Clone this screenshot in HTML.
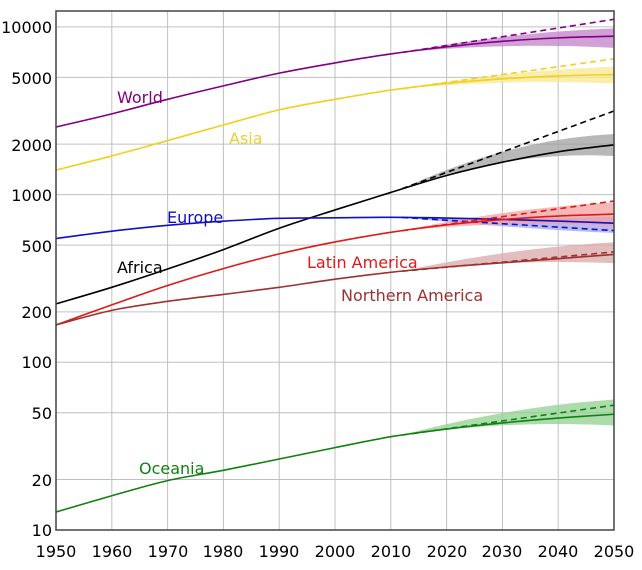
<!DOCTYPE html>
<html><head><meta charset="utf-8"><style>
html,body{margin:0;padding:0;background:#fff;}
svg{display:block;font-family:"DejaVu Sans","Liberation Sans",sans-serif;}
</style></head><body>
<svg id="s" width="642" height="570" viewBox="0 0 642 570" xmlns="http://www.w3.org/2000/svg">
<g id="grid" stroke="#c0c0c0" stroke-width="1"></g>
<g id="bands"></g>
<g id="lines" fill="none" stroke-width="1.6"></g>
<rect x="56" y="11" width="558" height="519" fill="none" stroke="#444" stroke-width="1.5"/>
<g font-size="16" fill="#000" text-anchor="end">
<text x="52" y="33">10000</text><text x="52" y="84">5000</text><text x="52" y="151">2000</text>
<text x="52" y="201">1000</text><text x="52" y="252">500</text><text x="52" y="318">200</text>
<text x="52" y="368">100</text><text x="52" y="419">50</text><text x="52" y="486">20</text><text x="52" y="536">10</text>
</g>
<g font-size="16" fill="#000" text-anchor="middle">
<text x="56" y="557">1950</text><text x="112" y="557">1960</text><text x="168" y="557">1970</text>
<text x="223" y="557">1980</text><text x="279" y="557">1990</text><text x="335" y="557">2000</text>
<text x="391" y="557">2010</text><text x="447" y="557">2020</text><text x="502" y="557">2030</text>
<text x="558" y="557">2040</text><text x="614" y="557">2050</text>
</g>
<g font-size="16">
<text x="117" y="103" fill="#800080">World</text>
<text x="229" y="144" fill="#e8d030">Asia</text>
<text x="167" y="223" fill="#1010c0">Europe</text>
<text x="117" y="273" fill="#000">Africa</text>
<text x="307" y="268" fill="#e01818">Latin America</text>
<text x="341" y="301" fill="#a03030">Northern America</text>
<text x="139" y="474" fill="#108010">Oceania</text>
</g>
</svg>
<script>
var X=function(yr){return 56+(yr-1950)*5.58;};
var Y=function(v){return 530-167.7*Math.log10(v/10);};
var ns="http://www.w3.org/2000/svg";
var g=document.getElementById('grid');
function ln(p,a){var e=document.createElementNS(ns,'line');for(var k in a)e.setAttribute(k,a[k]);p.appendChild(e);}
for(var yr=1960;yr<2050;yr+=10)ln(g,{x1:X(yr),x2:X(yr),y1:11,y2:530});
[20,50,100,200,500,1000,2000,5000,10000].forEach(function(v){ln(g,{x1:56,x2:614,y1:Y(v),y2:Y(v)});});
var yrs=[1950,1960,1970,1980,1990,2000,2010,2020,2030,2040,2050];
function smooth(pts){
 var d='M'+pts[0][0]+','+pts[0][1];
 for(var i=0;i<pts.length-1;i++){
  var p0=pts[i-1]||pts[i],p1=pts[i],p2=pts[i+1],p3=pts[i+2]||p2;
  var c1=[p1[0]+(p2[0]-p0[0])/6,p1[1]+(p2[1]-p0[1])/6];
  var c2=[p2[0]-(p3[0]-p1[0])/6,p2[1]-(p3[1]-p1[1])/6];
  d+='C'+c1[0]+','+c1[1]+' '+c2[0]+','+c2[1]+' '+p2[0]+','+p2[1];
 }
 return d;
}
var S=[
{c:'#800080',f:'#c080c8',d:[2530,3030,3700,4450,5300,6100,6900,7600,8200,8600,8800],hi:11100,lo:7500,up:9800},
{c:'#f0d020',f:'#f8e890',d:[1400,1700,2100,2600,3200,3700,4200,4600,4900,5100,5200],hi:6450,lo:4600,up:5800},
{c:'#000',f:'#a0a0a0',d:[223,280,360,470,630,810,1030,1300,1560,1800,1980],hi:3150,lo:1700,up:2300},
{c:'#1010c0',f:'#a0a0f0',d:[547,605,656,694,722,727,732,725,712,695,675],hi:610,lo:590,up:740},
{c:'#e01818',f:'#f4a0a0',d:[167,220,287,362,443,522,596,660,710,745,765],hi:916,lo:650,up:900},
{c:'#a03030',f:'#d8a8a8',d:[167,204,231,254,280,313,344,370,392,415,440],hi:455,lo:390,up:520},
{c:'#108010',f:'#90d090',d:[12.8,16,19.7,22.7,26.5,31,36,40,43.5,46.5,49],hi:55.5,lo:42,up:60}];
var B=document.getElementById('bands'),L=document.getElementById('lines');
function pth(p,a){var e=document.createElementNS(ns,'path');for(var k in a)e.setAttribute(k,a[k]);p.appendChild(e);}
S.forEach(function(s){
 var v12=s.d[6]+(s.d[7]-s.d[6])*0.2;
 var up=[],lo=[];
 for(var i=0;i<=10;i++){var t=i/10,yr=2012+38*t,
  m=Math.log10(v12)+(Math.log10(s.d[10])-Math.log10(v12))*(1-(1-t)*(1-t));
  up.push(X(yr)+','+Y(Math.pow(10,m+(Math.log10(s.up)-Math.log10(s.d[10]))*t)));
  lo.unshift(X(yr)+','+Y(Math.pow(10,m+(Math.log10(s.lo)-Math.log10(s.d[10]))*t)));}
 pth(B,{d:'M'+up.join('L')+'L'+lo.join('L')+'Z',fill:s.f,opacity:0.75});
 pth(L,{d:smooth(yrs.map(function(yr,i){return [X(yr),Y(s.d[i])];})),stroke:s.c});
 var dd=[];for(var i=0;i<=10;i++){var t=i/10;dd.push(X(2012+38*t)+','+Y(Math.pow(10,Math.log10(v12)+(Math.log10(s.hi)-Math.log10(v12))*t)));}
 pth(L,{d:'M'+dd.join('L'),stroke:s.c,'stroke-dasharray':'6,4'});
});
</script>
</body></html>
